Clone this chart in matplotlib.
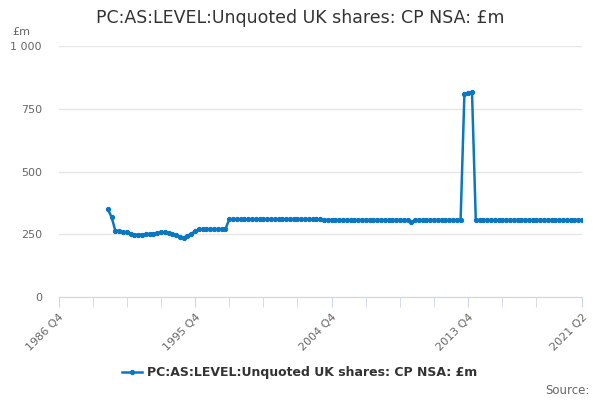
import matplotlib
matplotlib.use("Agg")
import matplotlib.pyplot as plt

TITLE = "PC:AS:LEVEL:Unquoted UK shares: CP NSA: £m"
START_YEAR = 1986
START_QUARTER = 4
N_QUARTERS = 139  # 1986 Q4 .. 2021 Q2
FIRST_INDEX = 13  # data begins 1990 Q1

# values, one per quarter from 1990 Q1
values_1990_1997 = [350, 318, 263, 263, 260, 258, 250, 248, 248, 249, 250, 251,
                    252, 255, 257, 257, 255, 250, 246, 240, 236, 244, 252, 262,
                    270, 270, 270, 270, 270, 270, 270, 270]
values_1997_2003 = [309, 309, 309, 309, 309, 309, 309, 309, 309, 309, 309, 309,
                    309, 309, 309, 309, 309, 309, 309, 309, 309, 309, 309, 309, 309]
values_2004_2013 = [307, 307, 307, 307, 307, 307, 307, 307, 307, 307, 307, 307,
                    307, 307, 307, 307, 307, 307, 307, 307, 307, 307, 307, 299,
                    307, 307, 307, 307, 307, 307, 307, 307, 307, 307, 307, 307, 307]
values_2013_2014 = [809, 811, 818]
values_2014_2021 = [307, 307, 307, 307, 307, 307, 307, 307, 307, 307, 307, 307,
                    307, 307, 307, 307, 307, 307, 307, 307, 307, 307, 307, 307,
                    307, 307, 307, 307, 307]

values = values_1990_1997 + values_1997_2003 + values_2004_2013 + values_2013_2014 + values_2014_2021

y_ticks = [0, 250, 500, 750, 1000]
y_tick_labels = ["0", "250", "500", "750", "1 000"]


def quarterLabel(i):
    q = START_QUARTER - 1 + i
    return "%d Q%d" % (START_YEAR + q // 4, q % 4 + 1)


fig = plt.figure(figsize=(6, 4), dpi=100)
ax = fig.add_axes([0.0975, 0.2575, 0.8725, 0.6275])

xs = list(range(FIRST_INDEX, FIRST_INDEX + len(values)))
line_color = "#0a77c0"
ax.plot(xs, values, color=line_color, linewidth=1.8, marker="o", markersize=2.8,
        label=TITLE, zorder=3)

ax.set_xlim(0, N_QUARTERS - 1)
ax.set_ylim(0, 1000)

# grid and axis styling
ax.set_yticks(y_ticks)
ax.set_yticklabels(y_tick_labels)
ax.yaxis.grid(True, color="#e6e6e6", linewidth=1)
ax.set_axisbelow(True)
for side in ["top", "right", "left"]:
    ax.spines[side].set_visible(False)
ax.spines["bottom"].set_color("#ccd6eb")
ax.tick_params(axis="y", length=0, labelsize=8, colors="#666666", pad=12)

minor_ticks = list(range(0, N_QUARTERS - 9, 9)) + [N_QUARTERS - 1]
label_ticks = [0, 36, 72, 108, 138]
ax.set_xticks(minor_ticks, minor=True)
ax.set_xticks(label_ticks)
ax.set_xticklabels([quarterLabel(i) for i in label_ticks], rotation=45, ha="right",
                   rotation_mode="anchor")
ax.tick_params(axis="x", which="both", length=7, color="#ccd6eb", labelsize=8,
               labelcolor="#666666", pad=4)

fig.text(0.5, 0.955, TITLE, ha="center", va="center", fontsize=12.5, color="#333333")
fig.text(0.02, 0.92, "£m", ha="left", va="center", fontsize=8, color="#666666")

leg = fig.legend(loc="center", bbox_to_anchor=(0.5, 0.068), frameon=False,
                 prop={"size": 9, "weight": "bold"}, handlelength=1.6, handletextpad=0.4)
for t in leg.get_texts():
    t.set_color("#333333")

fig.text(0.982, 0.025, "Source:", ha="right", va="center", fontsize=8.5, color="#666666")

fig.savefig("out.png", dpi=100)
